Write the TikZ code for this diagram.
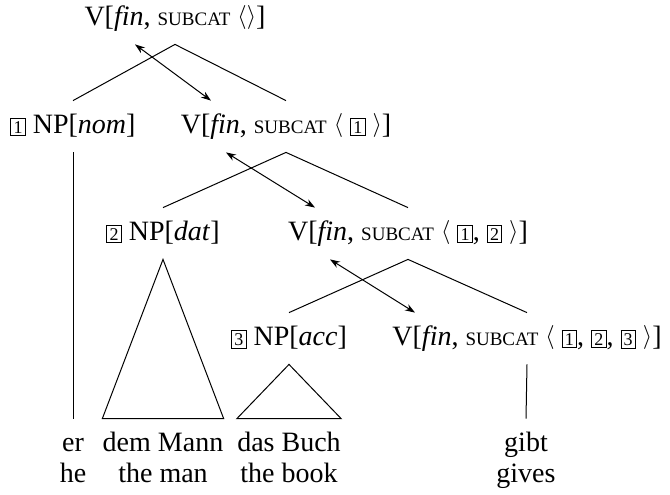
\documentclass[tikz,border=0pt]{standalone}
\usepackage{fontspec}
\setmainfont{Liberation Serif}
\usepackage{tikz}
\usetikzlibrary{
    arrows.meta,
    positioning,
    calc
}
% boxed tags, small feature names and list brackets
\newcommand{\tagnum}[1]{{\setlength{\fboxsep}{1.2pt}\setlength{\fboxrule}{0.4pt}\fbox{\fontsize{9}{9}\selectfont #1}}}
\newcommand{\featsc}[1]{{\fontsize{9.5}{10}\selectfont #1}}
\newcommand{\lbr}{\raisebox{0.6pt}{\fontsize{11.5}{12}\selectfont$\langle$}}
\newcommand{\rbr}{\raisebox{0.6pt}{\fontsize{11.5}{12}\selectfont$\rangle$}}
\tikzset{
    cat/.style={
        anchor=base,
        font=\fontsize{14}{17}\selectfont,
        inner xsep=0pt,
        inner ysep=6pt,
        text height=10pt,
        text depth=3.5pt
    },
    word/.style={
        cat
    },
    branch/.style={
        draw=black,
        line width=0.5pt
    },
    link/.style={
        <->,
        >={Stealth[length=5pt,width=3.5pt]},
        draw=black,
        line width=0.5pt
    }
}

\begin{document}
\begin{tikzpicture}[x=0.5pt, y=-0.5pt]
    \useasboundingbox (0,0) rectangle (670,494);

    % Categories
    \node[cat] (top) at (175,25) {V[\textit{fin}, \featsc{SUBCAT} \lbr\rbr]};
    \node[cat] (nom) at (73,133) {\tagnum{1} NP[\textit{nom}]};
    \node[cat] (v1) at (286,133) {V[\textit{fin}, \featsc{SUBCAT} \lbr{} \tagnum{1} \rbr]};
    \node[cat] (dat) at (163,240) {\tagnum{2} NP[\textit{dat}]};
    \node[cat] (v2) at (408,240) {V[\textit{fin}, \featsc{SUBCAT} \lbr{} \tagnum{1}, \tagnum{2} \rbr]};
    \node[cat] (acc) at (289,345) {\tagnum{3} NP[\textit{acc}]};
    \node[cat] (v3) at (527,345) {V[\textit{fin}, \featsc{SUBCAT} \lbr{} \tagnum{1}, \tagnum{2}, \tagnum{3} \rbr]};

    % Words and glosses
    \foreach \n/\x/\de/\en in {
        nom/73/er/he,
        dat/163/dem Mann/the man,
        acc/289/das Buch/the book,
        v/526/gibt/gives%
    } {
        \node[word] (w-\n) at (\x,451) {\de};
        \node[word] (g-\n) at (\x,482) {\en};
    }

    % Branches
    \draw[branch] (nom.north) -- (top.south) -- (v1.north);
    \draw[branch] (dat.north) -- (v1.south) -- (v2.north);
    \draw[branch] (acc.north) -- (v2.south) -- (v3.north);
    \draw[branch] (nom.south) -- (w-nom.north);
    \draw[branch] (dat.south) -- (w-dat.north west) -- (w-dat.north east) -- cycle;
    \draw[branch] (acc.south) -- (w-acc.north west) -- (w-acc.north east) -- cycle;
    \draw[branch] (v3.south) -- (w-v.north);

    % Valence links
    \draw[link] ([xshift=-20pt]top.south) -- ([xshift=-37.5pt]v1.north);
    \draw[link] ([xshift=-30pt]v1.south) -- ([xshift=-46.5pt]v2.north);
    \draw[link] ([xshift=-39pt]v2.south) -- ([xshift=-56pt]v3.north);
\end{tikzpicture}
\end{document}
